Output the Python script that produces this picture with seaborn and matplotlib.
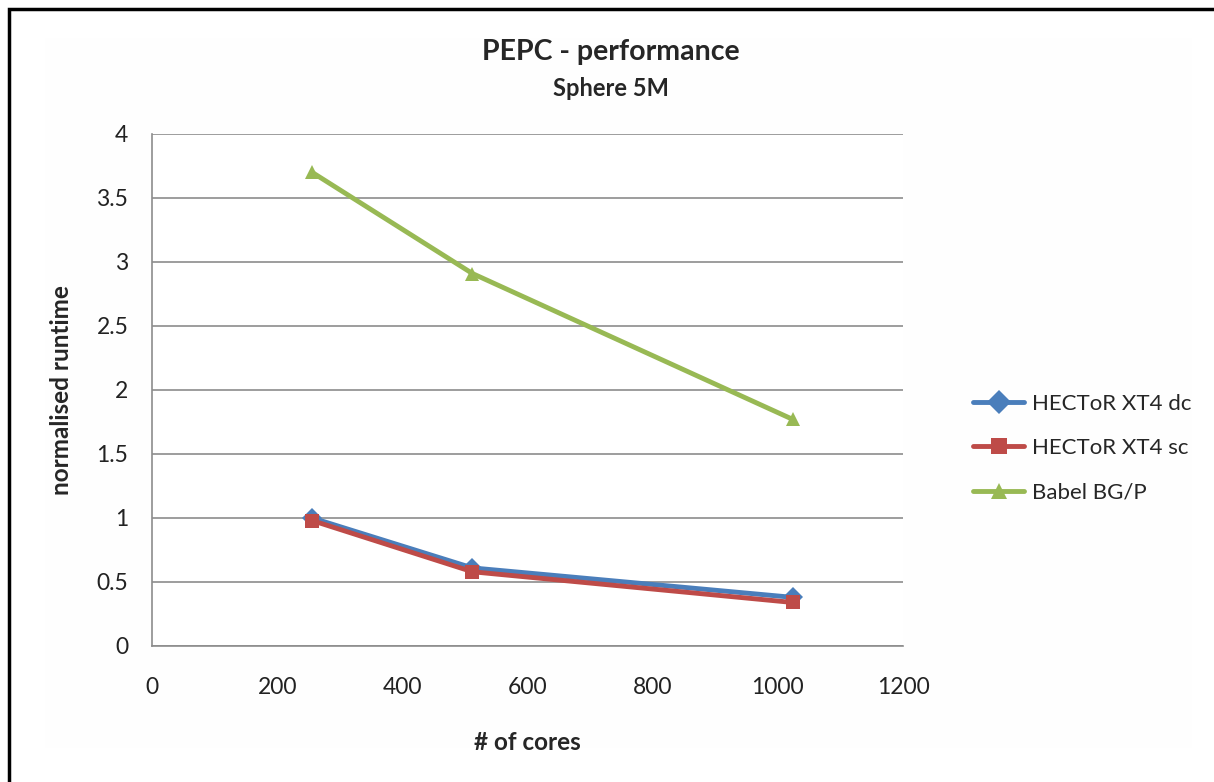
import matplotlib
matplotlib.use("Agg")
import matplotlib.pyplot as plt
import seaborn as sns
import pandas as pd
from matplotlib.patches import Rectangle

cores = [256, 512, 1024]
hector_dc = [1.00, 0.61, 0.38]
hector_sc = [0.98, 0.58, 0.34]
babel_bgp = [3.70, 2.91, 1.77]
series_names = ["HECToR XT4 dc", "HECToR XT4 sc", "Babel BG/P"]
x_ticks = [0, 200, 400, 600, 800, 1000, 1200]
y_ticks = [0, 0.5, 1, 1.5, 2, 2.5, 3, 3.5, 4]

rows = []
for name, vals in zip(series_names, [hector_dc, hector_sc, babel_bgp]):
    for c, v in zip(cores, vals):
        rows.append({"cores": c, "runtime": v, "series": name})
df = pd.DataFrame(rows)

sns.set_style("white")
plt.rcParams["font.family"] = ["Lato", "DejaVu Sans"]

fig = plt.figure(figsize=(12.14, 7.82), dpi=100)
ax = fig.add_axes([152/1214, 1 - 646/782, (903-152)/1214, (646-134)/782])

# faint chart area and outer frame
fig.patches.append(Rectangle((45/1214, 1 - 748/782), (1192-45)/1214, (748-38)/782,
                             transform=fig.transFigure, facecolor="#fefefe",
                             edgecolor="none", zorder=-10))
fig.patches.append(Rectangle((9/1214, -0.1), 1.2, 1 - 9/782 + 0.1,
                             transform=fig.transFigure, facecolor="none",
                             edgecolor="black", linewidth=2.5, zorder=10))

palette = {"HECToR XT4 dc": "#4A7EBB", "HECToR XT4 sc": "#BE4B48", "Babel BG/P": "#98B954"}
markers = {"HECToR XT4 dc": "D", "HECToR XT4 sc": "s", "Babel BG/P": "^"}

sns.lineplot(data=df, x="cores", y="runtime", hue="series", style="series",
             hue_order=series_names, style_order=series_names,
             palette=palette, markers=markers, dashes=False, linewidth=3.5,
             markersize=10, markeredgewidth=0, ax=ax, zorder=3)

ax.set_xlim(0, 1200)
ax.set_ylim(0, 4)
ax.set_xticks(x_ticks)
ax.set_yticks(y_ticks)
ax.set_xticklabels([f"{t:g}" for t in x_ticks])
ax.set_yticklabels([f"{t:g}" for t in y_ticks])
ax.tick_params(axis="y", length=0, pad=17, labelsize=16.5, colors="#222222")
ax.tick_params(axis="x", length=0, pad=22, labelsize=16.5, colors="#222222")
ax.yaxis.grid(True, color="#8c8c8c", linewidth=1.2)
ax.xaxis.grid(False)
ax.set_facecolor("white")
for s in ["top", "right"]:
    ax.spines[s].set_visible(False)
for s in ["left", "bottom"]:
    ax.spines[s].set_color("#8c8c8c")
    ax.spines[s].set_linewidth(1.2)

ax.set_xlabel("# of cores", fontsize=17.5, fontweight="bold", labelpad=24)
ax.set_ylabel("normalised runtime", fontsize=17.5, fontweight="bold", labelpad=17)

fig.text(611/1214, 1 - 52/782, "PEPC - performance", ha="center", va="center",
         fontsize=20.5, fontweight="bold")
fig.text(611/1214, 1 - 88/782, "Sphere 5M", ha="center", va="center",
         fontsize=17, fontweight="bold")

leg = ax.legend(loc="center left", bbox_to_anchor=(953/1214, 1 - 448/782),
                bbox_transform=fig.transFigure, frameon=False, fontsize=16,
                labelspacing=1.1, handlelength=2.3, handletextpad=0.35,
                markerscale=1.2)

fig.savefig("out.png", dpi=100)
